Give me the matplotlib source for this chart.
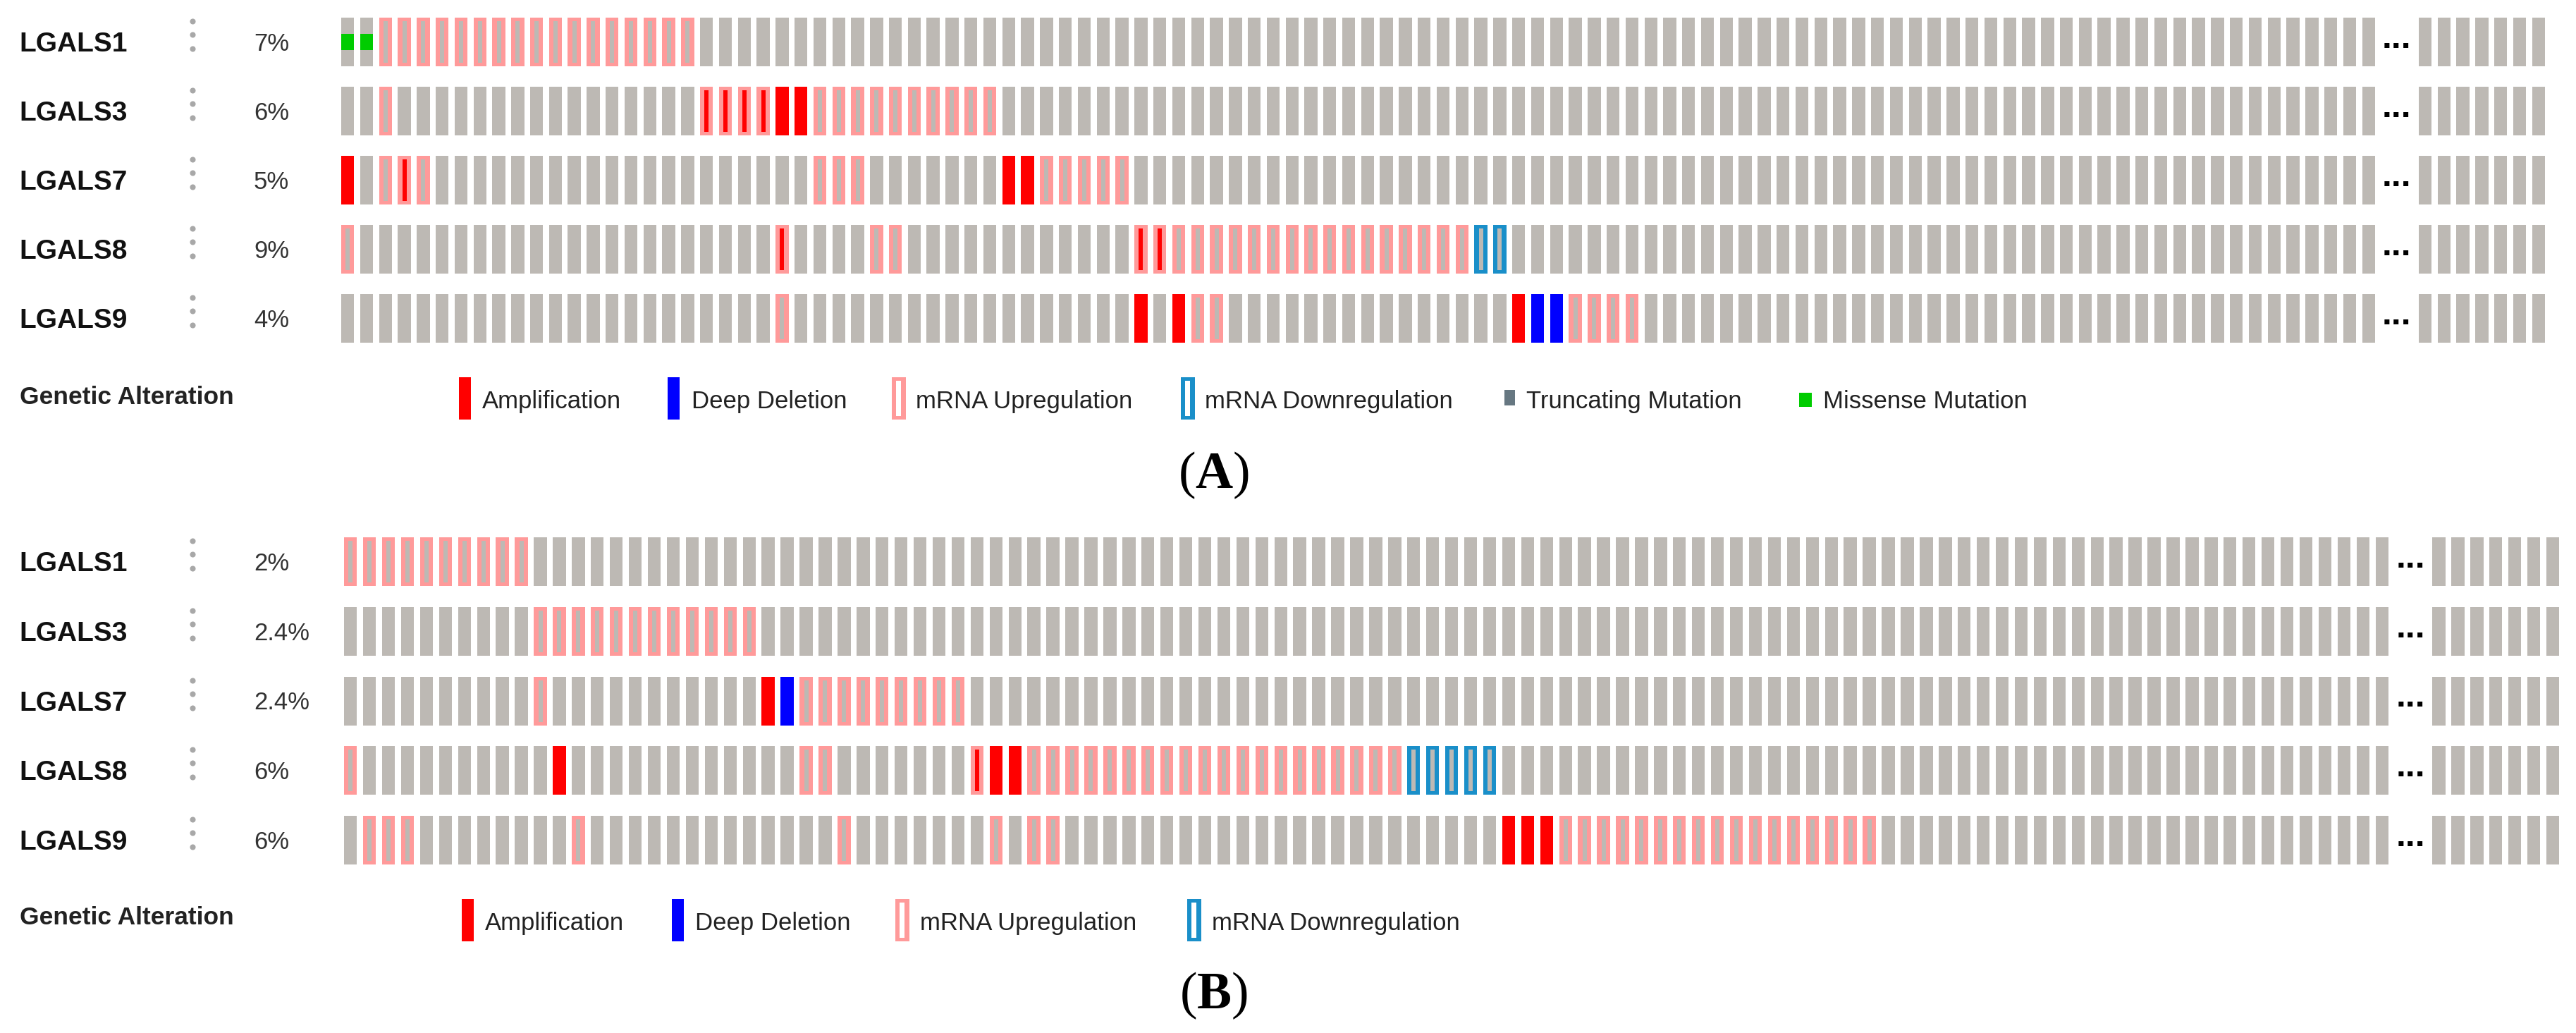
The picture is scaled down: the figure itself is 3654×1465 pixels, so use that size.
import matplotlib
matplotlib.use("Agg")
import matplotlib.pyplot as plt
from matplotlib.patches import Rectangle

plt.rcParams['font.family'] = ['Liberation Sans', 'DejaVu Sans']
plt.rcParams['mathtext.fontset'] = 'custom'
plt.rcParams['mathtext.rm'] = 'Liberation Serif'
plt.rcParams['mathtext.bf'] = 'Liberation Serif:bold'

# ---- data read from the oncoprints ----
genes = ["LGALS1", "LGALS3", "LGALS7", "LGALS8", "LGALS9"]

# 108 samples before the "..." gap, 7 shown after it
n_main = 108
tail_cols = [110, 111, 112, 113, 114, 115, 116]

pct_a = ["7%", "6%", "5%", "9%", "4%"]
pct_b = ["2%", "2.4%", "2.4%", "6%", "6%"]

# altered samples as (first, last) column runs per gene
amp_a = {"LGALS3": [(23, 24)], "LGALS7": [(0, 0), (35, 36)],
         "LGALS9": [(42, 42), (44, 44), (62, 62)]}
del_a = {"LGALS9": [(63, 64)]}
up_a = {"LGALS1": [(2, 18)], "LGALS3": [(2, 2), (25, 34)],
        "LGALS7": [(2, 2), (4, 4), (25, 27), (37, 41)],
        "LGALS8": [(0, 0), (28, 29), (44, 59)],
        "LGALS9": [(23, 23), (45, 46), (65, 68)]}
amp_up_a = {"LGALS3": [(19, 22)], "LGALS7": [(3, 3)],
            "LGALS8": [(23, 23), (42, 43)]}
down_a = {"LGALS8": [(60, 61)]}
miss_a = {"LGALS1": [(0, 1)]}

amp_b = {"LGALS7": [(22, 22)], "LGALS8": [(11, 11), (34, 35)],
         "LGALS9": [(61, 63)]}
del_b = {"LGALS7": [(23, 23)]}
up_b = {"LGALS1": [(0, 9)], "LGALS3": [(10, 21)],
        "LGALS7": [(10, 10), (24, 32)],
        "LGALS8": [(0, 0), (24, 25), (36, 55)],
        "LGALS9": [(1, 3), (12, 12), (26, 26), (34, 34), (36, 37), (64, 80)]}
amp_up_b = {"LGALS8": [(33, 33)]}
down_b = {"LGALS8": [(56, 60)]}
miss_b = {}

legend_a = ["Amplification", "Deep Deletion", "mRNA Upregulation",
            "mRNA Downregulation", "Truncating Mutation", "Missense Mutation"]
legend_b = ["Amplification", "Deep Deletion", "mRNA Upregulation",
            "mRNA Downregulation"]
legend_kinds = ["amp", "del", "up", "down", "trunc", "miss"]

# ---- colours / sizes ----
GREY = '#bdb9b4'
RED = '#ff0000'
BLUE = '#0000ff'
PINK = '#ff9a9a'
DOWN = '#1a8fc9'
GREEN = '#00cc00'
TRUNC = '#667781'

W, H = 3655, 1465
BAR_W, BAR_H = 18.4, 69
INNER_W, EDGE_H = 6.0, 5.0

fig = plt.figure(figsize=(W / 100, H / 100), dpi=100)
ov = fig.add_axes([0, 0, 1, 1])
ov.set_xlim(0, W)
ov.set_ylim(H, 0)
ov.axis('off')


def cols_of(runs):
    out = []
    for a, b in runs:
        out += list(range(a, b + 1))
    return out


def draw_panel(left, pitch, top, rpitch, pcts, amp, dele, up, amp_up, down, miss,
               leg_labels, leg_pos, leg_y, ga_base, tag, tag_base):
    bw = BAR_W / pitch
    hh = BAR_H / rpitch
    iw = INNER_W / pitch
    eh = EDGE_H / rpitch
    x1 = tail_cols[-1] + bw
    y1 = len(genes) - 1 + hh
    ax = fig.add_axes([left / W, 1 - (top + y1 * rpitch) / H,
                       x1 * pitch / W, y1 * rpitch / H])
    ax.set_xlim(0, x1)
    ax.set_ylim(y1, 0)
    ax.axis('off')

    cols = list(range(n_main)) + tail_cols
    for r, g in enumerate(genes):
        ax.bar(cols, hh, width=bw, bottom=r, align='edge', color=GREY, linewidth=0)
        xs = cols_of(amp.get(g, []))
        ax.bar(xs, hh, width=bw, bottom=r, align='edge', color=RED, linewidth=0)
        xs = cols_of(dele.get(g, []))
        ax.bar(xs, hh, width=bw, bottom=r, align='edge', color=BLUE, linewidth=0)
        for src, edge, inner in [(up, PINK, GREY), (amp_up, PINK, RED), (down, DOWN, GREY)]:
            xs = cols_of(src.get(g, []))
            ax.bar(xs, hh, width=bw, bottom=r, align='edge', color=edge, linewidth=0)
            ax.bar([x + (bw - iw) / 2 for x in xs], hh - 2 * eh, width=iw,
                   bottom=r + eh, align='edge', color=inner, linewidth=0)
        xs = cols_of(miss.get(g, []))
        gh = hh * 0.34
        ax.bar(xs, gh, width=bw, bottom=r + hh / 2 - gh / 2, align='edge',
               color=GREEN, linewidth=0)
        ax.text((n_main - 1 + bw + tail_cols[0]) / 2, r + hh / 2 + 0.085, '...',
                fontsize=36, fontweight='bold', ha='center', va='baseline')

        yc = top + r * rpitch + BAR_H / 2
        ov.text(27, yc + 13.5, g, fontsize=28, fontweight='bold', color='#111111',
                ha='left', va='baseline')
        ov.text(360, yc + 12.5, pcts[r], fontsize=25, color='#333333',
                ha='left', va='baseline')
        ov.scatter([273, 273, 273], [yc - 29.5, yc - 10.5, yc + 9.5], s=34,
                   color='#a8a8a8', linewidths=0)

    # legend
    ov.text(28, ga_base, "Genetic Alteration", fontsize=25.5, fontweight='bold',
            color='#222222', ha='left', va='baseline')
    for kind, label, (mx, tx) in zip(legend_kinds, leg_labels, leg_pos):
        if kind in ("amp", "del"):
            ov.add_patch(Rectangle((mx, leg_y - 30), 17, 60, linewidth=0,
                                   color=RED if kind == "amp" else BLUE))
        elif kind in ("up", "down"):
            ec = PINK if kind == "up" else DOWN
            ov.add_patch(Rectangle((mx, leg_y - 30), 20, 60, linewidth=0, color=ec))
            ov.add_patch(Rectangle((mx + 6.5, leg_y - 25), 7, 50, linewidth=0,
                                   color='white'))
        elif kind == "trunc":
            ov.add_patch(Rectangle((mx, leg_y - 12), 15, 22, linewidth=0, color=TRUNC))
        else:
            ov.add_patch(Rectangle((mx, leg_y - 8), 18, 20, linewidth=0, color=GREEN))
        ov.text(tx, leg_y + 14, label, fontsize=25, color='#222222',
                ha='left', va='baseline')

    ov.text(1722, tag_base, '(' + r'$\mathbf{' + tag + '}$' + ')', fontsize=53,
            family='Liberation Serif', ha='center', va='baseline', color='black')


draw_panel(484, 26.79, 25, 98, pct_a, amp_a, del_a, up_a, amp_up_a, down_a, miss_a,
           legend_a, [(651, 684), (947, 981), (1265, 1299), (1675, 1709),
                      (2134, 2165), (2552, 2586)],
           565, 573, 'A', 692)
draw_panel(488, 26.93, 762, 98.75, pct_b, amp_b, del_b, up_b, amp_up_b, down_b, miss_b,
           legend_b, [(655, 688), (953, 986), (1270, 1305), (1684, 1719)],
           1305, 1311, 'B', 1430)

fig.savefig('out.png', dpi=100, facecolor='white')
